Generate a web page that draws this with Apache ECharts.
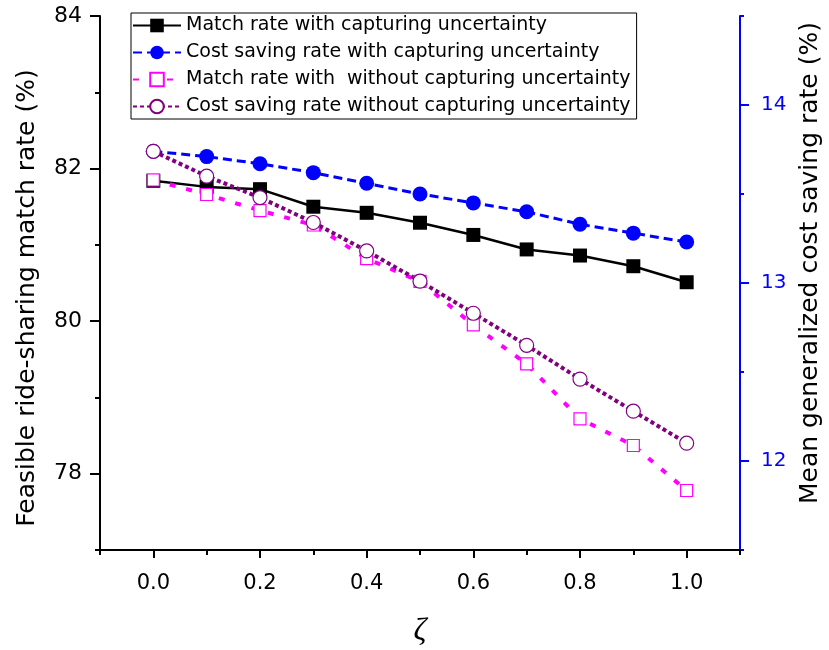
<!DOCTYPE html>
<html lang="en">
<head>
  <meta charset="UTF-8">
  <title>Match rate and cost saving rate vs zeta</title>
  <script src="https://cdn.jsdelivr.net/npm/echarts@6/dist/echarts.min.js"></script>
  <style>
    html, body { margin: 0; padding: 0; background: #fff; }
  </style>
</head>
<body>
<div id="main" style="width: 829px;height:650px;"></div>
<script>
  // data
  var zeta = [0.0, 0.1, 0.2, 0.3, 0.4, 0.5, 0.6, 0.7, 0.8, 0.9, 1.0];
  var matchWith = [81.84, 81.76, 81.73, 81.50, 81.42, 81.29, 81.13, 80.94, 80.86, 80.72, 80.51];
  var costWith = [13.74, 13.71, 13.67, 13.62, 13.56, 13.50, 13.45, 13.40, 13.33, 13.28, 13.23];
  var matchWithout = [81.85, 81.66, 81.45, 81.26, 80.82, 80.52, 79.95, 79.44, 78.72, 78.37, 77.78];
  var costWithout = [13.74, 13.60, 13.48, 13.34, 13.18, 13.01, 12.83, 12.65, 12.46, 12.28, 12.10];

  var seriesNames = [
    'Match rate with capturing uncertainty',
    'Cost saving rate with capturing uncertainty',
    'Match rate with  without capturing uncertainty',
    'Cost saving rate without capturing uncertainty'
  ];

  // tick positions
  var xMajor = [0.0, 0.2, 0.4, 0.6, 0.8, 1.0];
  var xMinor = [-0.1, 0.1, 0.3, 0.5, 0.7, 0.9, 1.1];
  var leftMajor = [78, 80, 82, 84];
  var leftMinor = [77, 79, 81, 83];
  var rightMajor = [12, 13, 14];
  var rightMinor = [11.5, 12.5, 13.5, 14.5];

  function pairs(ys) {
    return zeta.map(function (x, i) { return [x, ys[i]]; });
  }

  var font = '"DejaVu Sans", Arial, sans-serif';
  var myChart = echarts.init(document.getElementById('main'), null, {renderer: 'canvas'});

  var option = {
    backgroundColor: '#fff',
    animation: false,
    textStyle: {fontFamily: font},
    grid: {left: 100, right: 89, top: 16, bottom: 100, outerBoundsMode: 'none'},
    legend: {
      orient: 'vertical',
      left: 131,
      top: 13,
      padding: [3, 6, 3, 1],
      borderColor: '#000',
      borderWidth: 1,
      borderRadius: 0,
      backgroundColor: '#fff',
      itemWidth: 48,
      itemHeight: 17,
      itemGap: 8,
      textStyle: {fontFamily: font, fontSize: 19, color: '#000', lineHeight: 19},
      data: seriesNames
    },
    xAxis: [{
      type: 'value',
      min: -0.1,
      max: 1.1,
      name: 'ζ',
      nameLocation: 'middle',
      nameGap: 66,
      nameTextStyle: {fontFamily: '"Liberation Serif", "DejaVu Serif", serif', fontStyle: 'italic', fontSize: 32, color: '#000'},
      axisLine: {onZero: false, lineStyle: {color: '#000', width: 2}},
      axisTick: {customValues: xMajor, length: 8, lineStyle: {color: '#000', width: 2}},
      axisLabel: {customValues: xMajor, margin: 23, fontSize: 21, color: '#000',
        formatter: function (v) { return v.toFixed(1); }},
      splitLine: {show: false}
    }, {
      type: 'value',
      min: -0.1,
      max: 1.1,
      position: 'bottom',
      axisLine: {show: false, onZero: false},
      axisTick: {customValues: xMinor, length: 5, lineStyle: {color: '#000', width: 2}},
      axisLabel: {show: false},
      splitLine: {show: false}
    }],
    yAxis: [{
      type: 'value',
      min: 77,
      max: 84,
      position: 'left',
      name: 'Feasible ride-sharing match rate (%)',
      nameLocation: 'middle',
      nameGap: 60,
      nameTextStyle: {fontSize: 25, color: '#000', padding: [0, 30, 0, 0]},
      axisLine: {show: true, onZero: false, lineStyle: {color: '#000', width: 2}},
      axisTick: {show: true, customValues: leftMajor, length: 10, lineStyle: {color: '#000', width: 2}},
      axisLabel: {customValues: leftMajor, margin: 18, fontSize: 22, color: '#000'},
      splitLine: {show: false}
    }, {
      type: 'value',
      min: 11.5,
      max: 14.5,
      position: 'right',
      name: 'Mean generalized cost saving rate (%)',
      nameLocation: 'middle',
      nameGap: 58,
      nameRotate: 90,
      nameTextStyle: {fontSize: 25, color: '#000', padding: [0, 0, 0, 40]},
      axisLine: {show: true, onZero: false, lineStyle: {color: '#0000ff', width: 2}},
      axisTick: {show: true, customValues: rightMajor, length: 9, lineStyle: {color: '#0000ff', width: 2}},
      axisLabel: {customValues: rightMajor, margin: 21, fontSize: 20, color: '#0000ff'},
      splitLine: {show: false}
    }, {
      type: 'value',
      min: 77,
      max: 84,
      position: 'left',
      axisLine: {show: false, onZero: false},
      axisTick: {show: true, customValues: leftMinor, length: 5, lineStyle: {color: '#000', width: 2}},
      axisLabel: {show: false},
      splitLine: {show: false}
    }, {
      type: 'value',
      min: 11.5,
      max: 14.5,
      position: 'right',
      axisLine: {show: false, onZero: false},
      axisTick: {show: true, customValues: rightMinor, length: 4, lineStyle: {color: '#0000ff', width: 2}},
      axisLabel: {show: false},
      splitLine: {show: false}
    }],
    series: [{
      name: seriesNames[0],
      type: 'line',
      yAxisIndex: 0,
      data: pairs(matchWith),
      symbol: 'rect',
      symbolSize: 14,
      itemStyle: {color: '#000'},
      lineStyle: {color: '#000', width: 2.5, type: 'solid'}
    }, {
      name: seriesNames[1],
      type: 'line',
      yAxisIndex: 1,
      data: pairs(costWith),
      symbol: 'circle',
      symbolSize: 15,
      itemStyle: {color: '#0000ff'},
      lineStyle: {color: '#0000ff', width: 3, type: [9, 5]}
    }, {
      name: seriesNames[2],
      type: 'line',
      yAxisIndex: 0,
      data: pairs(matchWithout),
      symbol: 'rect',
      symbolSize: 12,
      itemStyle: {color: '#fff', borderColor: '#ff00ff', borderWidth: 1.2},
      lineStyle: {color: '#ff00ff', width: 4, type: [6, 11]}
    }, {
      name: seriesNames[3],
      type: 'line',
      yAxisIndex: 1,
      data: pairs(costWithout),
      symbol: 'circle',
      symbolSize: 14,
      itemStyle: {color: '#fff', borderColor: '#800080', borderWidth: 1.2},
      lineStyle: {color: '#800080', width: 4, type: [4, 3]}
    }]
  };

  myChart.setOption(option);
</script>
</body>
</html>
